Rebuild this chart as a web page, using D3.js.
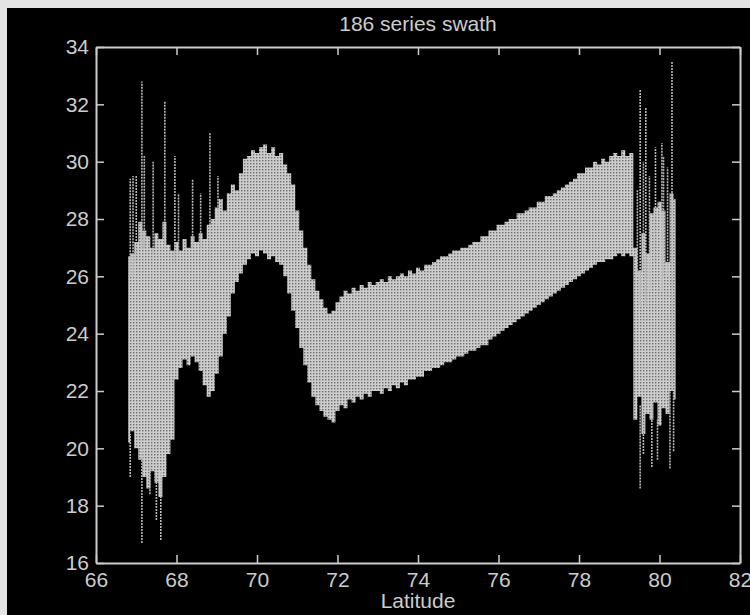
<!DOCTYPE html>
<html>
<head>
<script src="https://cdn.jsdelivr.net/npm/d3@7"></script>
<style type="text/css">
	body { margin: 0; background: #e4e4e4; }
	text { font-family: "Liberation Sans", Arial, sans-serif; fill: #cccccc; }
</style>
</head>
<body>
<script>

// latitude samples of the swath
var lat = [66.8,66.9,67.0,67.1,67.2,67.3,67.4,67.5,67.6,67.7,67.8,67.9,
	68.0,68.1,68.2,68.3,68.4,68.5,68.6,68.7,68.8,68.9,
	69.0,69.1,69.2,69.3,69.4,69.5,69.6,69.7,69.8,69.9,
	70.0,70.1,70.2,70.3,70.4,70.5,70.6,70.7,70.8,70.9,
	71.0,71.1,71.2,71.3,71.4,71.5,71.6,71.7,71.8,71.9,
	72.0,72.1,72.2,72.3,72.4,72.5,72.6,72.7,72.8,72.9,
	73.0,73.1,73.2,73.3,73.4,73.5,73.6,73.7,73.8,73.9,
	74.0,74.1,74.2,74.3,74.4,74.5,74.6,74.7,74.8,74.9,
	75.0,75.1,75.2,75.3,75.4,75.5,75.6,75.7,75.8,75.9,
	76.0,76.1,76.2,76.3,76.4,76.5,76.6,76.7,76.8,76.9,
	77.0,77.1,77.2,77.3,77.4,77.5,77.6,77.7,77.8,77.9,
	78.0,78.1,78.2,78.3,78.4,78.5,78.6,78.7,78.8,78.9,
	79.0,79.1,79.2,79.3,79.4,79.5,79.6,79.7,79.8,79.9,
	80.0,80.1,80.2,80.3,80.4];

// top of the dense band
var upper = [26.7,26.8,27.2,27.9,27.6,27.4,27.0,27.5,27.3,27.9,27.1,26.9,
	27.2,26.9,27.3,27.0,27.4,27.2,27.5,27.3,27.8,28.0,
	28.4,28.7,28.3,28.9,29.2,29.0,29.6,30.1,30.2,30.4,
	30.3,30.5,30.6,30.3,30.5,30.2,30.3,29.9,29.6,29.2,
	28.3,27.6,27.0,26.4,25.9,25.5,25.2,24.9,24.7,24.8,
	25.1,25.3,25.5,25.4,25.6,25.5,25.7,25.6,25.8,25.7,
	25.8,25.9,25.8,26.0,25.9,26.0,26.1,26.0,26.2,26.1,
	26.3,26.2,26.4,26.4,26.5,26.6,26.7,26.7,26.8,26.9,
	26.9,27.0,27.0,27.1,27.2,27.2,27.4,27.4,27.6,27.6,
	27.8,27.8,27.9,28.0,28.0,28.2,28.2,28.3,28.4,28.4,
	28.6,28.6,28.8,28.8,28.9,29.0,29.1,29.2,29.3,29.4,
	29.6,29.6,29.8,29.8,30.0,29.9,30.1,30.0,30.2,30.3,
	30.2,30.4,30.2,30.3,27.0,26.2,27.5,26.8,28.2,28.4,
	28.6,28.3,26.5,28.9,28.7];

// bottom of the dense band
var lower = [20.2,20.6,20.0,19.6,19.0,18.6,19.2,18.8,18.3,19.0,19.8,20.3,
	22.4,22.8,23.1,22.9,23.2,23.0,22.7,22.2,21.8,22.0,
	22.6,23.2,24.0,24.6,25.4,25.8,26.1,26.4,26.6,26.8,
	26.7,26.9,26.8,26.6,26.7,26.5,26.4,26.0,25.4,24.8,
	24.2,23.5,22.9,22.3,21.8,21.5,21.3,21.1,21.0,20.9,
	21.3,21.5,21.4,21.7,21.6,21.8,21.7,21.9,21.8,22.0,
	22.0,21.9,22.1,22.0,22.2,22.1,22.3,22.2,22.4,22.4,
	22.5,22.5,22.7,22.7,22.8,22.8,22.9,23.0,23.0,23.1,
	23.2,23.2,23.3,23.4,23.4,23.5,23.6,23.6,23.8,23.9,
	24.0,24.1,24.2,24.3,24.4,24.5,24.6,24.7,24.8,24.9,
	25.0,25.1,25.2,25.3,25.4,25.5,25.6,25.7,25.8,25.9,
	26.0,26.1,26.2,26.3,26.4,26.5,26.5,26.6,26.6,26.7,
	26.8,26.7,26.8,26.7,21.0,21.8,20.5,21.2,21.0,21.6,
	20.8,21.4,21.2,22.0,21.7];

// single series sticking out of the band
var spikeLat = [66.85,66.92,67.0,67.14,67.2,67.42,67.71,67.96,68.05,68.4,68.6,68.83,69.03,
	67.14,67.34,67.5,67.61,66.85,
	79.52,79.66,80.06,80.31,79.45,79.6,79.75,79.9,80.1,80.2,
	79.52,79.81,80.26,79.6,79.95,80.35];
var spikeLo = [26.0,26.0,26.5,27.0,27.0,26.8,27.0,26.5,26.8,27.0,27.0,26.0,27.8,
	16.7,18.4,17.5,16.8,19.0,
	25.0,25.0,25.5,22.0,26.0,26.2,25.5,26.5,26.0,26.0,
	18.6,19.35,19.3,19.8,19.6,19.9];
var spikeHi = [29.4,29.5,29.5,32.8,30.2,30.0,32.1,30.2,28.9,29.4,28.9,31.0,29.5,
	20.0,19.5,19.0,19.2,20.5,
	32.5,31.9,30.65,33.5,29.0,30.0,29.5,30.5,30.2,29.8,
	21.5,21.5,22.0,21.0,21.0,22.0];

var xTicks = [66,68,70,72,74,76,78,80,82];
var yTicks = [16,18,20,22,24,26,28,30,32,34];

var canvas = d3.select("body").append("svg")
	.attr("width", 750)
	.attr("height", 615);

canvas.append("rect")
	.attr("x", 7).attr("y", 8)
	.attr("width", 743).attr("height", 607)
	.attr("fill", "#000");

// dithered grey fill like the printout
var pat = canvas.append("defs").append("pattern")
	.attr("id", "dither")
	.attr("patternUnits", "userSpaceOnUse")
	.attr("width", 3).attr("height", 3);
pat.append("rect").attr("width", 3).attr("height", 3).attr("fill", "#cdcdcd");
pat.append("rect").attr("x", 1).attr("y", 1).attr("width", 1.4).attr("height", 1.4).attr("fill", "#6e6e6e");

var x = d3.scaleLinear().domain([66, 82]).range([96, 740]);
var y = d3.scaleLinear().domain([16, 34]).range([563, 47]);

var band = lat.map(function (d, i) { return {lat: d, hi: upper[i], lo: lower[i]}; });

var area = d3.area()
	.curve(d3.curveStep)
	.x(function (d) { return x(d.lat); })
	.y0(function (d) { return y(d.lo); })
	.y1(function (d) { return y(d.hi); });

canvas.append("path")
	.datum(band)
	.attr("d", area)
	.attr("fill", "url(#dither)");

var spikes = spikeLat.map(function (d, i) { return {lat: d, lo: spikeLo[i], hi: spikeHi[i]}; });

canvas.selectAll("line.spike")
	.data(spikes)
	.enter()
	.append("line")
	.attr("class", "spike")
	.attr("x1", function (d) { return x(d.lat); })
	.attr("x2", function (d) { return x(d.lat); })
	.attr("y1", function (d) { return y(d.lo); })
	.attr("y2", function (d) { return y(d.hi); })
	.attr("stroke", "#b8b8b8")
	.attr("stroke-width", 1.6)
	.attr("stroke-dasharray", "2,1");

// axes, ticks pointing inward on all four sides
var axCol = "#cccccc";

function styleAxis(g) {
	g.select(".domain").attr("stroke", axCol).attr("stroke-width", 2);
	g.selectAll(".tick line").attr("stroke", axCol).attr("stroke-width", 1.5);
	g.selectAll(".tick text").attr("fill", axCol).attr("font-size", 21)
		.attr("font-family", "Liberation Sans, Arial, sans-serif");
}

canvas.append("g")
	.attr("transform", "translate(0,563)")
	.call(d3.axisBottom(x).tickValues(xTicks).tickFormat(d3.format("d")).tickSizeInner(-8).tickSizeOuter(0).tickPadding(9))
	.call(styleAxis);

canvas.append("g")
	.attr("transform", "translate(0,47)")
	.call(d3.axisTop(x).tickValues(xTicks).tickFormat("").tickSizeInner(-8).tickSizeOuter(0))
	.call(styleAxis);

canvas.append("g")
	.attr("transform", "translate(96,0)")
	.call(d3.axisLeft(y).tickValues(yTicks).tickFormat(d3.format("d")).tickSizeInner(-8).tickSizeOuter(0).tickPadding(7))
	.call(styleAxis);

canvas.append("g")
	.attr("transform", "translate(740,0)")
	.call(d3.axisRight(y).tickValues(yTicks).tickFormat("").tickSizeInner(-8).tickSizeOuter(0))
	.call(styleAxis);

canvas.append("text")
	.attr("x", 418).attr("y", 31)
	.attr("text-anchor", "middle")
	.attr("font-size", 21)
	.text("186 series swath");

canvas.append("text")
	.attr("x", 418).attr("y", 608)
	.attr("text-anchor", "middle")
	.attr("font-size", 21)
	.text("Latitude");

</script>
</body>
</html>
